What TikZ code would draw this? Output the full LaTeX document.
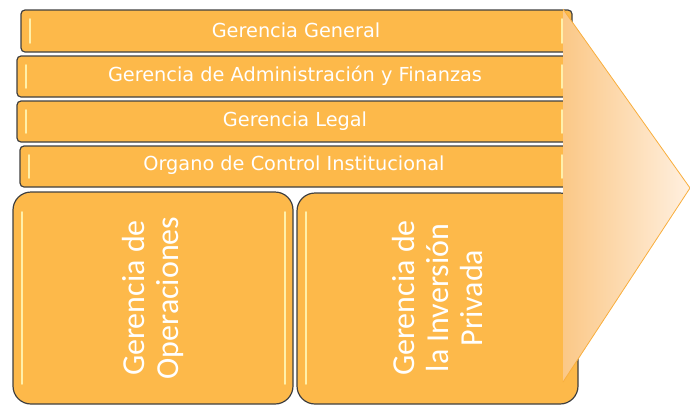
\documentclass[tikz,border=0pt]{standalone}
\usepackage{fontspec}
\newfontfamily\barfont{DejaVu Sans}
\newfontfamily\boxfont{Carlito}
\begin{document}
\begin{tikzpicture}[x=1pt,y=-1pt,
  bar/.style={draw=black!75,line width=1.2pt,fill=orfill,rounded corners=4pt},
  bigbox/.style={draw=black!75,line width=1.2pt,fill=orfill,rounded corners=18pt},
  bartext/.style={text=white,font=\barfont\fontsize{19.3}{21}\selectfont},
  boxtext/.style={text=white,font=\boxfont\fontsize{32}{34}\selectfont,align=center,rotate=90},
  gloss/.style={draw=glossc,line width=1.6pt,line cap=round}]
\definecolor{orfill}{RGB}{253,185,74}
\definecolor{glossc}{RGB}{255,240,170}
\definecolor{trileft}{RGB}{251,200,135}
\definecolor{triright}{RGB}{255,240,224}
\definecolor{triedge}{RGB}{249,174,60}
\useasboundingbox (0,0) rectangle (690,405);
% bars
\draw[bar] (21,10) rectangle (572,52);
\draw[bar] (17,56) rectangle (572,97);
\draw[bar] (17,101) rectangle (572,142);
\draw[bar] (20,146) rectangle (572,187);
\foreach \a/\b/\x in {10/52/21,56/97/17,101/142/17,146/187/20}{
  \draw[gloss] (\x+9,\a+9) -- (\x+9,\b-9);
  \draw[gloss] (562,\a+9) -- (562,\b-9);
}
\node[bartext] (g1) at (296,30.5) {Gerencia General};
\node[bartext] (g2) at (295,76) {Gerencia de Administración y Finanzas};
\node[bartext] (g3) at (295,121) {Gerencia Legal};
\node[bartext] (g4) at (294,165.5) {Organo de Control Institucional};
% big boxes
\draw[bigbox] (13,192) rectangle (293,404);
\draw[bigbox] (297,193) rectangle (578,404);
\draw[gloss] (22,212) -- (22,384);
\draw[gloss] (285,212) -- (285,384);
\draw[gloss] (306,212) -- (306,384);
\node[boxtext] (op) at (153,298) {Gerencia de\\Operaciones};
\node[boxtext] (ip) at (437,298) {Gerencia de\\la Inversión\\Privada};
% triangle
\shade[left color=trileft,right color=triright] (563,9) -- (690,188) -- (563,382) -- cycle;
\draw[triedge,line width=0.8pt] (563,9) -- (690,188) -- (563,382);
\end{tikzpicture}
\end{document}
